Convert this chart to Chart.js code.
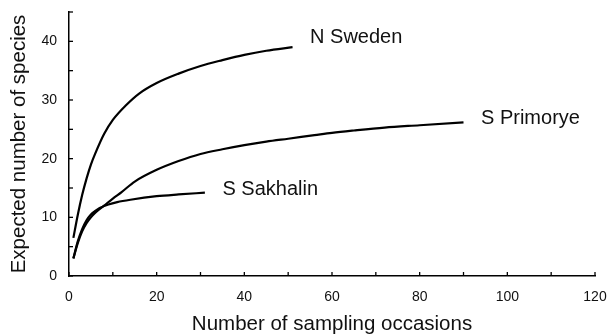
<!DOCTYPE html>
<html>
<head>
<meta charset="utf-8">
<script src="https://cdn.jsdelivr.net/npm/chart.js@4.4.1/dist/chart.umd.min.js"></script>
<style>
  html, body { margin: 0; padding: 0; background: #fff; }
  #wrap { width: 610px; height: 336px; }
</style>
</head>
<body>
<div id="wrap"><canvas id="chart"></canvas></div>
<script>
// Rarefaction curves
const seriesNames = ['N Sweden', 'S Primorye', 'S Sakhalin'];

const swedenX = [1, 2, 3, 4, 5, 6, 8, 10, 13, 16, 20, 25, 30, 35, 40, 45, 51];
const swedenY = [6.5, 10.4, 13.8, 16.6, 19.0, 20.9, 24.2, 26.6, 29.1, 31.1, 32.9, 34.5, 35.8, 36.8, 37.7, 38.4, 39.0];

const primoryeX = [1, 2, 3, 4, 5, 6, 8, 10, 12, 15, 20, 25, 30, 35, 40, 45, 50, 56, 60, 65, 72, 80, 90];
const primoryeY = [3, 5.6, 7.6, 9.0, 10.0, 10.8, 12.0, 13.2, 14.3, 16.1, 18.1, 19.6, 20.8, 21.6, 22.3, 22.9, 23.4, 24.0, 24.4, 24.8, 25.3, 25.7, 26.2];

const sakhalinX = [1, 2, 3, 4, 5, 6, 7, 9, 11, 14, 20, 25, 31];
const sakhalinY = [3, 5.9, 8, 9.5, 10.5, 11.1, 11.6, 12.2, 12.6, 13.0, 13.6, 13.9, 14.2];

// where each curve name sits, in data units (left edge, vertical middle)
const labelX = [55, 94, 35];
const labelY = [40.7, 26.8, 14.7];

const xTickStep = 10;
const yTickStep = 5;

const FONT = '"Liberation Sans", Arial, Helvetica, sans-serif';

function toPoints(xs, ys) {
    return xs.map((x, i) => ({ x: x, y: ys[i] }));
}

// ticks pointing into the plot, like the original figure
const inwardTicks = {
    id: 'inwardTicks',
    afterDraw(chart) {
        const ctx = chart.ctx;
        const xs = chart.scales.x;
        const ys = chart.scales.y;
        ctx.save();
        ctx.strokeStyle = '#000';
        ctx.lineWidth = 1.3;
        xs.ticks.forEach(t => {
            const px = xs.getPixelForValue(t.value);
            ctx.beginPath();
            ctx.moveTo(px, ys.bottom);
            ctx.lineTo(px, ys.bottom - 4);
            ctx.stroke();
        });
        ys.ticks.forEach(t => {
            const py = ys.getPixelForValue(t.value);
            ctx.beginPath();
            ctx.moveTo(xs.left, py);
            ctx.lineTo(xs.left + 4, py);
            ctx.stroke();
        });
        ctx.restore();
    }
};

// curve names next to the line ends
const curveLabels = {
    id: 'curveLabels',
    afterDatasetsDraw(chart) {
        const ctx = chart.ctx;
        const xs = chart.scales.x;
        const ys = chart.scales.y;
        ctx.save();
        ctx.fillStyle = '#111';
        ctx.font = '20px ' + FONT;
        ctx.textAlign = 'left';
        ctx.textBaseline = 'middle';
        seriesNames.forEach((name, i) => {
            ctx.fillText(name, xs.getPixelForValue(labelX[i]), ys.getPixelForValue(labelY[i]));
        });
        ctx.restore();
    }
};

const lineStyle = {
    borderColor: '#000',
    borderWidth: 2.2,
    pointRadius: 0,
    fill: false,
    cubicInterpolationMode: 'monotone'
};

new Chart(document.getElementById('chart'), {
    type: 'line',
    data: {
        datasets: [
            Object.assign({ label: seriesNames[0], data: toPoints(swedenX, swedenY) }, lineStyle),
            Object.assign({ label: seriesNames[1], data: toPoints(primoryeX, primoryeY) }, lineStyle),
            Object.assign({ label: seriesNames[2], data: toPoints(sakhalinX, sakhalinY) }, lineStyle)
        ]
    },
    options: {
        responsive: true,
        maintainAspectRatio: false,
        animation: false,
        layout: { padding: { top: 12, right: 15, left: 0, bottom: 0 } },
        plugins: {
            legend: { display: false },
            tooltip: { enabled: false }
        },
        scales: {
            x: {
                type: 'linear',
                min: 0,
                max: 120,
                grid: { display: false, drawTicks: false },
                border: { display: true, color: '#000', width: 1.5 },
                ticks: {
                    stepSize: xTickStep,
                    autoSkip: false,
                    maxRotation: 0,
                    padding: 13,
                    color: '#111',
                    font: { family: FONT, size: 14 },
                    callback: v => (v % 20 === 0 ? v : '')
                },
                title: {
                    display: true,
                    text: 'Number of sampling occasions',
                    color: '#111',
                    font: { family: FONT, size: 20.5, lineHeight: 1 },
                    padding: { top: 0, bottom: 1 }
                },
                afterFit(scale) {
                    scale.height = 60;
                    // the "120" label may hang past the axis end
                    scale.paddingLeft = 0;
                    scale.paddingRight = 0;
                }
            },
            y: {
                min: 0,
                max: 45,
                grid: { display: false, drawTicks: false },
                border: { display: true, color: '#000', width: 1.5 },
                ticks: {
                    stepSize: yTickStep,
                    autoSkip: false,
                    padding: 12,
                    color: '#111',
                    font: { family: FONT, size: 14 },
                    callback: v => (v % 10 === 0 ? v : '')
                },
                title: {
                    display: true,
                    text: 'Expected number of species',
                    color: '#111',
                    font: { family: FONT, size: 20.5, lineHeight: 1 },
                    padding: { top: 9, bottom: 0 }
                },
                afterFit(scale) {
                    scale.width = 69;
                    scale.paddingTop = 0;
                    scale.paddingBottom = 0;
                }
            }
        }
    },
    plugins: [inwardTicks, curveLabels]
});
</script>
</body>
</html>
